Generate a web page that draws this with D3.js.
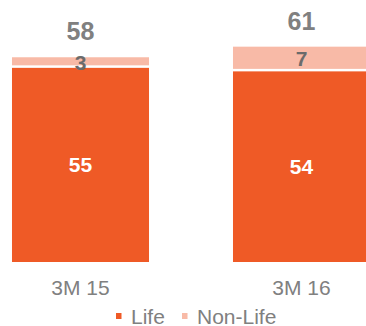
<!DOCTYPE html>
<html><head><meta charset="utf-8">
<script src="https://cdn.jsdelivr.net/npm/d3@7"></script>
<style>html,body{margin:0;padding:0;background:#fff;overflow:hidden}</style>
</head><body><svg id="c" width="366" height="326"></svg>
<script>
const categories = ["3M 15", "3M 16"];
const lifeValues = [55, 54];
const nonLifeValues = [3, 7];
const totals = [58, 61];
const seriesNames = ["Life", "Non-Life"];
const colors = ["#EF5A26", "#F8BAA7"];

const svg = d3.select("#c");
const font = "'Liberation Sans', Arial, sans-serif";
const x = d3.scaleBand().domain(categories).range([-30, 412]).paddingInner(0.38).paddingOuter(0.19);
const y = d3.scaleLinear().domain([0, 70]).range([262, 14.9]);

const data = categories.map((c, i) => ({c, life: lifeValues[i], non: nonLifeValues[i], total: totals[i]}));
const g = svg.append("g");
g.selectAll("rect.life").data(data).join("rect").attr("class", "life")
  .attr("x", d => x(d.c)).attr("width", x.bandwidth())
  .attr("y", d => y(d.life)).attr("height", d => y(0) - y(d.life))
  .attr("fill", colors[0]);
g.selectAll("rect.non").data(data).join("rect").attr("class", "non")
  .attr("x", d => x(d.c)).attr("width", x.bandwidth())
  .attr("y", d => y(d.life + d.non)).attr("height", d => y(d.life) - y(d.life + d.non) - 2.5)
  .attr("fill", colors[1]);
g.selectAll("text.lifeL").data(data).join("text")
  .attr("x", d => x(d.c) + x.bandwidth() / 2).attr("y", d => (y(d.life) + y(0)) / 2)
  .attr("dy", "0.36em").attr("text-anchor", "middle")
  .attr("font-family", font).attr("font-weight", "bold").attr("font-size", 21)
  .attr("fill", "#fff").text(d => d.life);
g.selectAll("text.nonL").data(data).join("text")
  .attr("x", d => x(d.c) + x.bandwidth() / 2).attr("y", d => (y(d.life) - 2.5 + y(d.life + d.non)) / 2 + 1)
  .attr("dy", "0.36em").attr("text-anchor", "middle")
  .attr("font-family", font).attr("font-weight", "bold").attr("font-size", 21)
  .attr("fill", "#6b6b6b").text(d => d.non);
g.selectAll("text.tot").data(data).join("text")
  .attr("x", d => x(d.c) + x.bandwidth() / 2).attr("y", d => y(d.total) - 17)
  .attr("text-anchor", "middle")
  .attr("font-family", font).attr("font-weight", "bold").attr("font-size", 25)
  .attr("fill", "#808080").text(d => d.total);
const ax = svg.append("g").attr("transform", "translate(0,262)")
  .call(d3.axisBottom(x).tickSize(0).tickPadding(18));
ax.select(".domain").remove();
ax.selectAll("text").attr("font-family", font).attr("font-size", 21).attr("fill", "#808080").attr("dy", "0.71em");
const leg = svg.append("g");
const legX = [116, 182];
seriesNames.forEach((n, i) => {
  leg.append("rect").attr("x", legX[i]).attr("y", 313).attr("width", 5.5).attr("height", 6).attr("fill", colors[i]);
  leg.append("text").attr("x", legX[i] + 15).attr("y", 323.5)
    .attr("font-family", font).attr("font-size", 21).attr("fill", "#808080").text(n);
});
</script></body></html>
